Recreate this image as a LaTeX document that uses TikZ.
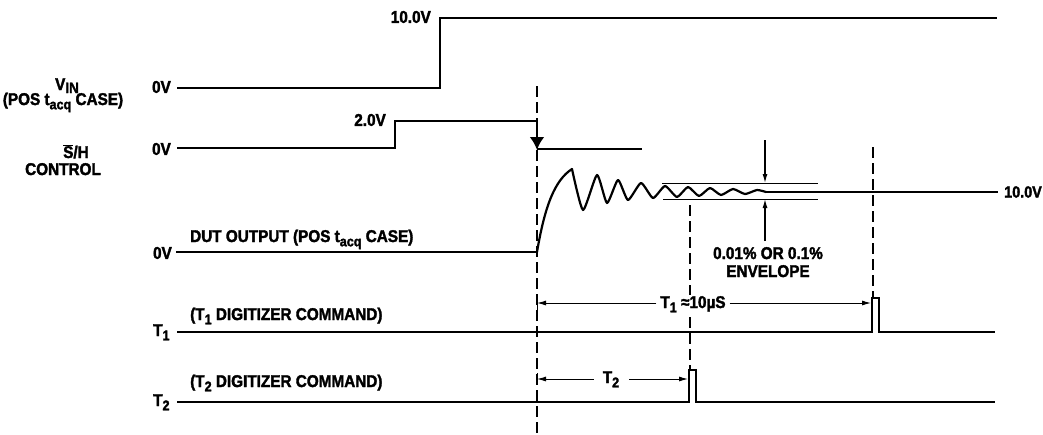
\documentclass[tikz,border=0pt]{standalone}
\usepackage{fontspec}
\setmainfont{Liberation Sans}[FakeStretch=0.9, BoldFeatures={FakeBold=2}]
\usetikzlibrary{arrows.meta}
\newcommand{\lowsub}[1]{\raisebox{-0.25em}{\fontsize{14}{14}\selectfont #1}}
\begin{document}
\begin{tikzpicture}[x=1pt,y=-1pt,
  sig/.style={line width=2.6pt, line join=miter},
  wave/.style={line width=2.2pt, line join=round, line cap=round},
  dim/.style={line width=1pt},
  dashv/.style={line width=1.8pt, dash pattern=on 11pt off 5pt},
  lab/.style={font=\fontsize{17}{18}\selectfont\bfseries, inner sep=0pt},
  tip/.style={-{Latex[length=9pt,width=5pt]}},
  bigtip/.style={-{Latex[length=13pt,width=15pt]}},
]
\useasboundingbox (0,0) rectangle (1043,434);

% ---------- coordinates ----------
\coordinate (vinA) at (177,88);
\coordinate (vinB) at (440,88);
\coordinate (vinC) at (440,18);
\coordinate (vinD) at (997,18);
\coordinate (shA) at (177,148);
\coordinate (shB) at (395,148);
\coordinate (shC) at (395,121);
\coordinate (shD) at (537,121);
\coordinate (shE) at (537,150);
\coordinate (shF) at (537,149);
\coordinate (shG) at (642,149);
\coordinate (dutA) at (176,252);
\coordinate (dutB) at (537,252);
\coordinate (dutP) at (572,169);
\coordinate (dutS) at (766,192);
\coordinate (dutE) at (998,192);
\coordinate (t1A) at (177,332);
\coordinate (t1B) at (872,332);
\coordinate (t1C) at (872,298);
\coordinate (t1D) at (879,298);
\coordinate (t1E) at (879,332);
\coordinate (t1F) at (995,332);
\coordinate (t2A) at (177,402);
\coordinate (t2B) at (689,402);
\coordinate (t2C) at (689,370);
\coordinate (t2D) at (696,370);
\coordinate (t2E) at (696,402);
\coordinate (t2F) at (995,402);
\coordinate (dA) at (537,86);
\coordinate (dB) at (537,434);
\coordinate (dC) at (690,205);
\coordinate (dD) at (690,370);
\coordinate (dE) at (873,147);
\coordinate (dF) at (873,298);
\coordinate (envUL) at (662,183);
\coordinate (envUR) at (818,183);
\coordinate (envLL) at (663,199);
\coordinate (envLR) at (818,199);
\coordinate (envT) at (765,140);
\coordinate (envTt) at (765,183);
\coordinate (envB) at (765,241);
\coordinate (envBt) at (765,199);
\coordinate (t1dimL) at (537,303);
\coordinate (t1dimR) at (871,303);
\coordinate (t2dimL) at (537,379);
\coordinate (t2dimR) at (688,379);

% ---------- dashed time markers ----------
\draw[dashv] (dA) -- (dB);
\draw[dashv] (dC) -- (dD);
\draw[dashv] (dE) -- (dF);

% ---------- V_IN ----------
\draw[sig] (vinA) -- (vinB) -- (vinC) -- (vinD);
\node[lab, anchor=east] (vin10) at (431,17) {10.0V};
\node[lab, anchor=east] (vin0v) at (171,87) {0V};
\node[lab, anchor=base] (vinname) at (67,90) {V\raisebox{-0.18em}{\fontsize{15}{15}\selectfont IN}};
\node[lab, anchor=base] (vincase) at (63,105) {(POS t\lowsub{acq} CASE)};

% ---------- S/H control ----------
\draw[sig] (shA) -- (shB) -- (shC) -- (shD);
\draw[sig, bigtip] (shD) -- (shE);
\draw[sig] (shF) -- (shG);
\node[lab, anchor=east] (sh2v) at (386,120) {2.0V};
\node[lab, anchor=east] (sh0v) at (171,149) {0V};
\node[lab, anchor=base] (shname) at (76,158) {$\overline{\hbox{S}}$/H};
\node[lab, anchor=base] (shctl) at (63,175) {CONTROL};

% ---------- DUT output ----------
\draw[sig] (dutA) -- (dutB);
\draw[wave] (dutB) .. controls (545,205) and (555,180) .. (dutP);
\draw[wave] plot[smooth, tension=0.35] coordinates {
  (572,169) (583,210) (597,175) (607,203) (618,180) (628,200) (641,183)
  (653,198) (665,186) (677,197) (688,187) (699,196) (710,188) (721,195)
  (733,189) (745,194) (757,190) (766,192)};
\draw[sig] (dutS) -- (dutE);
\node[lab, anchor=east] (dut0v) at (172,253) {0V};
\node[lab, anchor=base west] (dutname) at (190,242) {DUT OUTPUT (POS t\lowsub{acq} CASE)};
\node[lab, anchor=west, font=\fontsize{16}{17}\selectfont\bfseries] (dut10) at (1004,192) {10.0V};

% envelope
\draw[dim] (envUL) -- (envUR);
\draw[dim] (envLL) -- (envLR);
\draw[line width=1.2pt, tip] (envT) -- (envTt);
\draw[line width=1.2pt, tip] (envB) -- (envBt);
\node[lab, anchor=base] (env1) at (768,259) {0.01\% OR 0.1\%};
\node[lab, anchor=base] (env2) at (768,277) {ENVELOPE};

% ---------- T1 ----------
\draw[sig] (t1A) -- (t1B) -- (t1C) -- (t1D) -- (t1E) -- (t1F);
\node[lab, anchor=base west] (t1name) at (153,336) {T\lowsub{1}};
\node[lab, anchor=base west] (t1cmd) at (190,320) {(T\lowsub{1} DIGITIZER COMMAND)};
\node[lab, anchor=base, fill=white, inner xsep=2pt, inner ysep=1pt] (t1lab) at (693,308) {T\lowsub{1} ≈10µS};
\draw[dim] (537,297) -- (537,310);
\draw[dim, tip] ([xshift=-2pt]t1lab.west |- t1dimL) -- (t1dimL);
\draw[dim, tip] ([xshift=2pt]t1lab.east |- t1dimR) -- (t1dimR);

% ---------- T2 ----------
\draw[sig] (t2A) -- (t2B) -- (t2C) -- (t2D) -- (t2E) -- (t2F);
\node[lab, anchor=base west] (t2name) at (153,406) {T\lowsub{2}};
\node[lab, anchor=base west] (t2cmd) at (190,387) {(T\lowsub{2} DIGITIZER COMMAND)};
\node[lab, anchor=base] (t2lab) at (611,383) {T\lowsub{2}};
\draw[dim] (537,373) -- (537,385);
\draw[dim, tip] ([xshift=-9pt]t2lab.west |- t2dimL) -- (t2dimL);
\draw[dim, tip] ([xshift=10pt]t2lab.east |- t2dimR) -- (t2dimR);
\end{tikzpicture}
\end{document}
